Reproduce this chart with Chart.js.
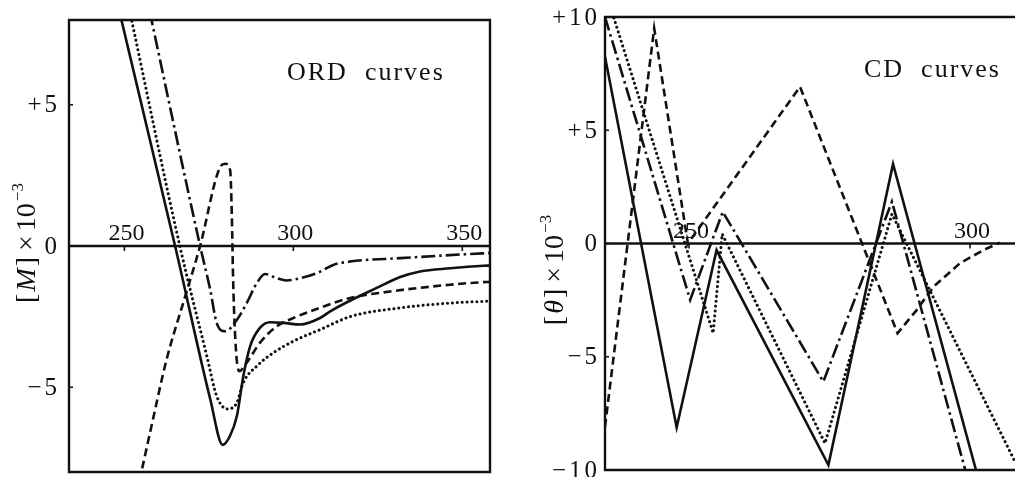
<!DOCTYPE html>
<html>
<head>
<meta charset="utf-8">
<script src="https://cdn.jsdelivr.net/npm/chart.js@4/dist/chart.umd.min.js"></script>
<style>
  html, body { margin: 0; background: #fff; }
  body { width: 1015px; height: 477px; position: relative; overflow: hidden; }
  canvas { position: absolute; top: 0; }
  #ordChart { left: 0; }
  #cdChart { left: 500px; }
</style>
</head>
<body>
<canvas id="ordChart" width="500" height="477"></canvas>
<canvas id="cdChart" width="515" height="477"></canvas>
<script>
// ORD panel: [wavelength nm, [M] x 10^-3]
const ordXTicks = [250, 300, 350];
const ordYTicks = [5, 0, -5];
const ordYLabels = ['+5', '0', '−5'];

const ordSolid = [
  [248.5, 8.3], [249.2, 7.96], [265.0, 0], [275.4, -5.42], [279.1, -7.04],
  [281.3, -6.71], [283.3, -6.01], [285.2, -4.6], [287.2, -3.55], [290.1, -2.9],
  [293.1, -2.7], [297.0, -2.72], [302.0, -2.78], [307.9, -2.55], [310.9, -2.31],
  [325.6, -1.43], [331.6, -1.1], [337.5, -0.9], [346.4, -0.79], [356.2, -0.7], [358.2, -0.69]
];
const ordDotted = [
  [251.6, 8.3], [252.2, 7.96], [266.4, 0], [274.4, -3.9], [277.3, -5.31],
  [280.5, -5.77], [283.3, -5.54], [285.2, -4.83], [289.2, -4.25], [294.1, -3.78],
  [300.0, -3.37], [307.9, -2.96], [316.8, -2.5], [331.6, -2.19], [346.4, -2.02],
  [356.1, -1.96], [358.2, -1.95]
];
const ordDashDot = [
  [257.5, 8.3], [258.1, 7.96], [272.4, 0], [275.4, -1.55], [277.3, -2.72],
  [279.8, -3.02], [283.3, -2.61], [286.2, -2.02], [289.2, -1.31], [291.6, -0.99],
  [295.1, -1.14], [298.0, -1.22], [302.0, -1.14], [307.4, -0.94], [311.8, -0.67],
  [316.8, -0.55], [331.6, -0.43], [356.1, -0.26], [358.2, -0.25]
];
const ordDashed = [
  [254.4, -8.3], [255.1, -7.95], [257.6, -6.6], [262.5, -4.01], [268.0, -1.78],
  [272.4, 0], [278.3, 2.79], [279.8, 2.91], [281.3, 2.68], [281.8, 1.03],
  [282.2, -1.31], [283.0, -3.66], [284.0, -4.43], [286.2, -4.13], [290.1, -3.43],
  [295.1, -2.84], [300.0, -2.55], [306.9, -2.23], [316.8, -1.84], [328.6, -1.61],
  [346.4, -1.37], [356.1, -1.28], [358.2, -1.27]
];

// CD panel: [wavelength nm, [theta] x 10^-3]
const cdXTicks = [250, 300];
const cdYTicks = [10, 5, 0, -5, -10];
const cdYLabels = ['+10', '+5', '0', '−5', '−10'];

const cdSolid = [
  [235.05, 8.25], [247.8, -8.12], [254.9, -0.29], [274.8, -9.78], [286.3, 3.51], [301.6, -10.5]
];
const cdDashDot = [
  [235.05, 10.0], [250.2, -2.49], [256.0, 1.4], [273.9, -6.1], [286.1, 1.85], [299.7, -10.5]
];
const cdDotted = [
  [235.05, 11.2], [254.3, -3.96], [255.9, 0.42], [274.2, -8.82], [286.1, 1.3], [308.0, -9.63]
];
const cdDashed = [
  [235.05, -8.09], [243.8, 9.5], [249.8, 0], [269.75, 6.92], [287.1, -3.96],
  [290.5, -2.94], [293.5, -1.91], [298.2, -0.87], [302.4, -0.29], [305.3, 0.04]
];

const ink = '#111';
const serif = "'Liberation Serif', 'DejaVu Serif', serif";

function lineSet(data, style, smooth) {
  const ds = {
    data: data.map(([x, y]) => ({ x, y })),
    borderColor: ink,
    borderWidth: 2.6,
    pointRadius: 0,
    fill: false,
    clip: 0,
    tension: 0,
    cubicInterpolationMode: smooth ? 'monotone' : 'default',
    borderCapStyle: 'butt',
  };
  if (style === 'dashed') ds.borderDash = [8, 4.5];
  if (style === 'dashdot') ds.borderDash = [14, 4, 2.5, 4];
  if (style === 'dotted') {
    ds.borderDash = [0.1, 4.8];
    ds.borderCapStyle = 'round';
    ds.borderWidth = 3;
  }
  return ds;
}

function drawTitle(ctx, cx, cy, sym) {
  const big = '28px ' + serif;
  const parts = [
    { t: '[', f: big, gap: 2 },
    { t: sym, f: 'italic 28px ' + serif, gap: 2 },
    { t: ']', f: big, gap: 6 },
    { t: '×', f: big, gap: 4 },
    { t: '10', f: big, gap: 2 },
    { t: '−3', f: '17px ' + serif, gap: 0, dy: -12 },
  ];
  ctx.save();
  ctx.translate(cx, cy);
  ctx.rotate(-Math.PI / 2);
  ctx.textBaseline = 'alphabetic';
  let total = 0;
  parts.forEach((p) => {
    ctx.font = p.f;
    p.w = ctx.measureText(p.t).width;
    total += p.w + p.gap;
  });
  let x = -total / 2;
  parts.forEach((p) => {
    ctx.font = p.f;
    ctx.fillText(p.t, x, 10 + (p.dy || 0));
    x += p.w + p.gap;
  });
  ctx.restore();
}

function panelPlugin(cfg) {
  return {
    id: 'panel',
    afterDatasetsDraw(chart) {
      const ctx = chart.ctx;
      const a = chart.chartArea;
      const xs = chart.scales.x;
      const ys = chart.scales.y;
      ctx.save();
      ctx.strokeStyle = ink;
      ctx.fillStyle = ink;
      ctx.lineWidth = 2.4;

      // frame
      ctx.beginPath();
      if (cfg.openRight) {
        ctx.moveTo(a.right, a.top);
        ctx.lineTo(a.left, a.top);
        ctx.lineTo(a.left, a.bottom);
        ctx.lineTo(a.right, a.bottom);
      } else {
        ctx.rect(a.left, a.top, a.right - a.left, a.bottom - a.top);
      }
      ctx.stroke();

      // zero line with wavelength ticks
      const y0 = ys.getPixelForValue(0);
      ctx.beginPath();
      ctx.moveTo(a.left, y0);
      ctx.lineTo(a.right, y0);
      ctx.stroke();
      ctx.font = '24px ' + serif;
      ctx.textAlign = 'center';
      ctx.textBaseline = 'alphabetic';
      ctx.lineWidth = 1.6;
      cfg.xTicks.forEach((v) => {
        const px = xs.getPixelForValue(v);
        ctx.beginPath();
        ctx.moveTo(px, y0);
        ctx.lineTo(px, y0 + 5);
        ctx.stroke();
        ctx.fillText(String(v), px + 2, y0 - 6);
      });

      // value ticks
      ctx.textAlign = 'right';
      ctx.textBaseline = 'middle';
      ctx.font = '25px ' + serif;
      if ('letterSpacing' in ctx) ctx.letterSpacing = '3px';
      cfg.yTicks.forEach((v, i) => {
        const py = ys.getPixelForValue(v);
        ctx.beginPath();
        ctx.moveTo(a.left, py);
        ctx.lineTo(a.left + 4, py);
        ctx.stroke();
        ctx.fillText(cfg.yLabels[i], a.left - cfg.labelGap, py + 1);
      });

      // panel caption
      ctx.textAlign = 'left';
      ctx.font = '26px ' + serif;
      if ('letterSpacing' in ctx) ctx.letterSpacing = '2px';
      ctx.fillText(cfg.caption, cfg.captionX, cfg.captionY);
      if ('letterSpacing' in ctx) ctx.letterSpacing = '0px';

      drawTitle(ctx, cfg.titleX, cfg.titleY, cfg.symbol);
      ctx.restore();
    },
  };
}

function makePanel(canvas, sets, xr, yr, padding, cfg) {
  return new Chart(canvas, {
    type: 'line',
    data: { datasets: sets },
    options: {
      responsive: false,
      animation: false,
      layout: { padding },
      plugins: { legend: { display: false }, tooltip: { enabled: false } },
      scales: {
        x: { type: 'linear', min: xr[0], max: xr[1], display: false },
        y: { type: 'linear', min: yr[0], max: yr[1], display: false },
      },
    },
    plugins: [panelPlugin(cfg)],
  });
}

makePanel(
  document.getElementById('ordChart'),
  [
    lineSet(ordSolid, 'solid', true),
    lineSet(ordDotted, 'dotted', true),
    lineSet(ordDashDot, 'dashdot', true),
    lineSet(ordDashed, 'dashed', true),
  ],
  [233.6, 358.2],
  [-8, 8],
  { left: 69, top: 20, right: 10, bottom: 5 },
  {
    xTicks: ordXTicks, yTicks: ordYTicks, yLabels: ordYLabels, labelGap: 9,
    caption: 'ORD  curves', captionX: 287, captionY: 73,
    symbol: 'M', titleX: 25, titleY: 243, openRight: false,
  }
);

makePanel(
  document.getElementById('cdChart'),
  [
    lineSet(cdSolid, 'solid', false),
    lineSet(cdDotted, 'dotted', false),
    lineSet(cdDashDot, 'dashdot', false),
    lineSet(cdDashed, 'dashed', false),
  ],
  [235.05, 308.0],
  [-10, 10],
  { left: 105, top: 17, right: 0, bottom: 7 },
  {
    xTicks: cdXTicks, yTicks: cdYTicks, yLabels: cdYLabels, labelGap: 5,
    caption: 'CD  curves', captionX: 364, captionY: 70,
    symbol: 'θ', titleX: 53, titleY: 270, openRight: true,
  }
);
</script>
</body>
</html>
